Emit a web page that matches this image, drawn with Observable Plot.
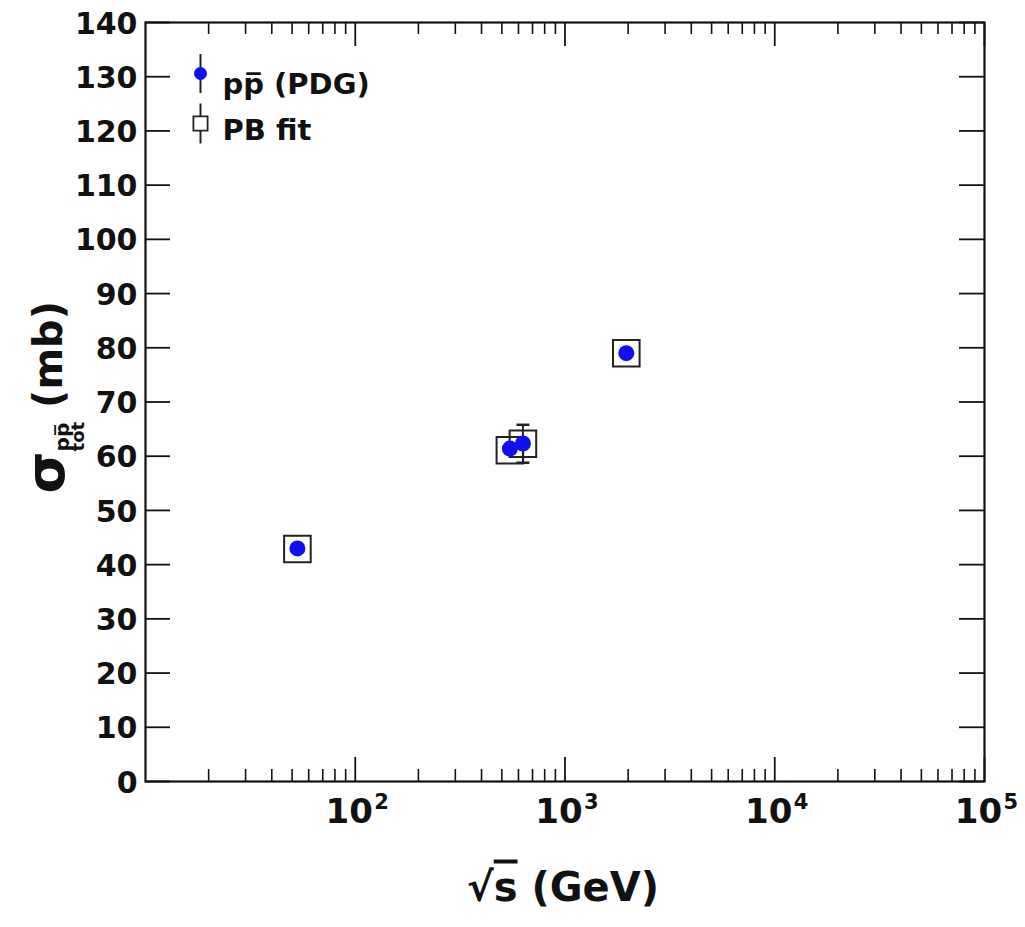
<!DOCTYPE html>
<html>
<head>
<meta charset="utf-8">
<script src="https://cdn.jsdelivr.net/npm/d3@7"></script>
<script src="https://cdn.jsdelivr.net/npm/@observablehq/plot@0.6"></script>
<style>
  html, body { margin: 0; padding: 0; background: #fff; }
  svg { display: block; }
</style>
</head>
<body>
<div id="chart"></div>
<script>
// ---- data ----
const energies  = [53, 546, 630, 1960];          // sqrt(s) in GeV
const pdgSigma  = [43.0, 61.4, 62.35, 79.0];      // pp̄ (PDG), mb
const fitSigma  = [42.9, 61.1, 62.3, 79.0];       // PB fit, mb
const fitError  = [0.0, 0.0, 3.5, 0.0];           // PB fit uncertainty, mb

const yTicks = [0, 10, 20, 30, 40, 50, 60, 70, 80, 90, 100, 110, 120, 130, 140];
const xMajorTicks = [100, 1000, 10000, 100000];
const xMajorBase = ["10", "10", "10", "10"];
const xMajorExponents = ["2", "3", "4", "5"];
const xMinorTicks = [20, 30, 40, 50, 60, 70, 80, 90,
                     200, 300, 400, 500, 600, 700, 800, 900,
                     2000, 3000, 4000, 5000, 6000, 7000, 8000, 9000,
                     20000, 30000, 40000, 50000, 60000, 70000, 80000, 90000];
const legendLabels = ["pp\u0305 (PDG)", "PB fit"];
const xLabel = "\u221As (GeV)";
const yLabel = "\u03C3";

// ---- tables built from the arrays ----
const points = energies.map((e, i) => ({energy: e, pdg: pdgSigma[i], fit: fitSigma[i], err: fitError[i]}));
const errPoints = points.filter(d => d.err > 0);
const capPoints = errPoints.flatMap(d => [{energy: d.energy, v: d.fit + d.err}, {energy: d.energy, v: d.fit - d.err}]);

// ---- layout ----
const W = 1025, H = 927, mL = 145, mR = 41, mT = 22, mB = 146;
const fw = W - mL - mR, fh = H - mT - mB;
const blue = "#1010ee";
const ink = "#111";
const font = "'DejaVu Sans', 'Liberation Sans', sans-serif";

const vbar = {draw(ctx, size) { const r = Math.sqrt(size / Math.PI); ctx.moveTo(0, -r); ctx.lineTo(0, r); }};
const hbar = {draw(ctx, size) { const r = Math.sqrt(size / Math.PI); ctx.moveTo(-r, 0); ctx.lineTo(r, 0); }};

const chart = Plot.plot({
  width: W, height: H,
  marginLeft: mL, marginRight: mR, marginTop: mT, marginBottom: mB,
  style: {fontFamily: font, fontWeight: "bold", background: "#fff", color: ink, overflow: "visible"},
  x: {type: "log", domain: [10, 1e5], axis: null},
  y: {domain: [0, 140], axis: null},
  marks: [
    // tick marks (inside the frame, ROOT style)
    Plot.tickX(xMinorTicks, {x: d => d, insetTop: fh - 12, stroke: ink, strokeWidth: 1.6}),
    Plot.tickX(xMinorTicks, {x: d => d, insetBottom: fh - 12, stroke: ink, strokeWidth: 1.6}),
    Plot.tickX(xMajorTicks, {x: d => d, insetTop: fh - 24, stroke: ink, strokeWidth: 1.8}),
    Plot.tickX(xMajorTicks, {x: d => d, insetBottom: fh - 24, stroke: ink, strokeWidth: 1.8}),
    Plot.tickY(yTicks, {y: d => d, insetRight: fw - 25, stroke: ink, strokeWidth: 1.8}),
    Plot.tickY(yTicks, {y: d => d, insetLeft: fw - 25, stroke: ink, strokeWidth: 1.8}),
    Plot.frame({stroke: ink, strokeWidth: 2.2}),

    // tick labels
    Plot.text(yTicks, {y: d => d, frameAnchor: "left", text: d => String(d), textAnchor: "end",
      dx: -8, dy: 1.5, fontSize: 30, fontWeight: "bold", fill: ink}),
    Plot.text(xMajorTicks, {x: d => d, frameAnchor: "bottom", text: (d, i) => xMajorBase[i],
      dx: -6, dy: 41, fontSize: 34, fontWeight: "bold", fill: ink}),
    Plot.text(xMajorTicks, {x: d => d, frameAnchor: "bottom", text: (d, i) => xMajorExponents[i],
      textAnchor: "start", dx: 19, dy: 27, fontSize: 21, fontWeight: "bold", fill: ink}),

    // axis titles
    Plot.text([xLabel], {frameAnchor: "bottom", dx: -2, dy: 119, fontSize: 40, fontWeight: "bold", fill: ink, ariaDescription: "x-title"}),
    Plot.text([yLabel], {frameAnchor: "left", rotate: -90, textAnchor: "start", dx: -96, dy: 91.5, fontSize: 40, fontWeight: "bold", fill: ink, ariaDescription: "y-title"}),

    // PB fit: open squares with error bars
    Plot.dot(points, {x: "energy", y: "fit", symbol: "square", r: 15, stroke: "#222", strokeWidth: 2, fill: "none"}),
    Plot.ruleX(errPoints, {x: "energy", y1: d => d.fit - d.err, y2: d => d.fit + d.err, stroke: "#222", strokeWidth: 2}),
    Plot.dot(capPoints, {x: "energy", y: "v", symbol: hbar, r: 6.5, stroke: "#222", strokeWidth: 2.5}),

    // pp̄ (PDG): filled blue circles
    Plot.dot(points, {x: "energy", y: "pdg", r: 8, fill: blue, stroke: "none"}),

    // legend
    Plot.dot([0], {frameAnchor: "top-left", dx: 55, dy: 51, symbol: vbar, r: 19.5, stroke: "#222", strokeWidth: 2}),
    Plot.dot([0], {frameAnchor: "top-left", dx: 55, dy: 51, r: 6.5, fill: blue}),
    Plot.text([legendLabels[0]], {frameAnchor: "top-left", dx: 77, dy: 50.7, textAnchor: "start", fontSize: 29, fontWeight: "bold", fill: ink}),
    Plot.dot([0], {frameAnchor: "top-left", dx: 55, dy: 101, symbol: vbar, r: 20, stroke: "#222", strokeWidth: 2}),
    Plot.dot([0], {frameAnchor: "top-left", dx: 55, dy: 101, symbol: "square", r: 8, stroke: "#222", strokeWidth: 1.8, fill: "#fff"}),
    Plot.text([legendLabels[1]], {frameAnchor: "top-left", dx: 77, dy: 96.7, textAnchor: "start", fontSize: 29, fontWeight: "bold", fill: ink})
  ]
});

// rich text for the axis titles (radical overline, super/subscripts)
const svg = d3.select(chart);
const xt = svg.select('g[aria-description="x-title"] text');
xt.text(null);
xt.append("tspan").text("\u221A");
xt.append("tspan").attr("text-decoration", "overline").text("s");
xt.append("tspan").text(" (GeV)");

const yt = svg.select('g[aria-description="y-title"] text');
yt.text(null);
yt.append("tspan").attr("font-size", 54).attr("dy", 2).text("\u03C3");
yt.append("tspan").attr("font-size", 20).attr("dy", 5).text("pp\u0305");
yt.append("tspan").attr("font-size", 18).attr("dx", -28.6).attr("dy", 15).text("tot");
yt.append("tspan").attr("font-size", 40).attr("dy", -22).text(" (mb)");

document.getElementById("chart").appendChild(chart);
</script>
</body>
</html>
